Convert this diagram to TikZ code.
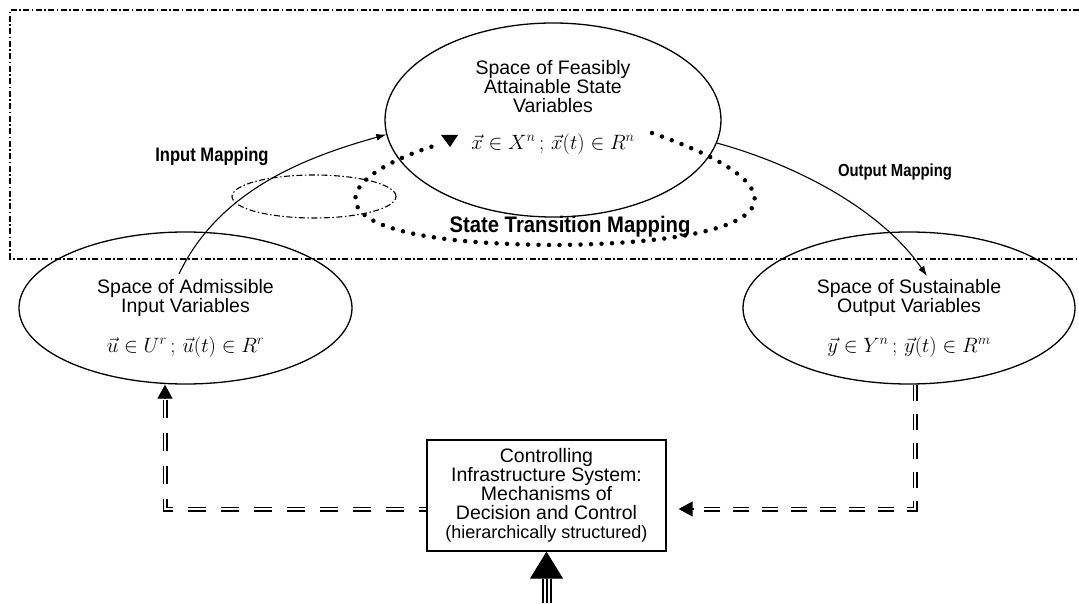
\documentclass[tikz,border=0pt]{standalone}
\usepackage{fontspec}
\setmainfont{Liberation Sans}
\usepackage{graphicx}
\usetikzlibrary{shapes.geometric,arrows.meta,calc,positioning}

\begin{document}
\begin{tikzpicture}[x=1pt,y=1pt,
    space/.style={draw,ellipse,line width=1.3pt,inner sep=0pt},
    body/.style={align=center,font=\fontsize{19.5}{19}\selectfont},
    formula/.style={font=\fontsize{20}{20}\selectfont},
    maplabel/.style={font=\fontsize{18}{18}\selectfont\bfseries},
    framedash/.style={line width=1.1pt,dash pattern=on 6pt off 2.5pt on 1.5pt off 2.5pt},
    mapping/.style={-{Latex[length=10pt,width=7pt]},line width=1.1pt},
    transition/.style={line width=4.5pt,line cap=round,dash pattern=on 0pt off 10.5pt},
    feedback/.style={double,double distance=2.4pt,line width=1.3pt,dash pattern=on 18pt off 15pt},
    headtip/.style={-{Triangle[length=14pt,width=15pt]},line width=1.2pt},
    tripleline/.style={line width=2pt,preaction={draw,line width=10pt},preaction={draw,white,line width=6pt}}]

    \useasboundingbox (0,0) rectangle (1079,603);

    \draw[framedash] (1079,593) -- (10,593) -- (10,344) -- (1079,344);
    \draw[framedash] (314,406.5) ellipse [x radius=82pt, y radius=21.5pt];

    \node[space,minimum width=336pt,minimum height=194pt] (state) at (553,483) {};
    \node[body] (statetext) at ($(state.center)+(0,33)$) {Space of Feasibly\\Attainable State\\Variables};
    \node[formula] (statemath) at ($(state.center)+(0,-24)$) {$\vec{x}\in X^{n}\,;\,\vec{x}(t)\in R^{n}$};

    \node[space,minimum width=333pt,minimum height=152pt] (input) at (185.5,295) {};
    \node[body] (inputtext) at ($(input.center)+(0,10)$) {Space of Admissible\\Input Variables};
    \node[formula] (inputmath) at ($(input.center)+(0,-39)$) {$\vec{u}\in U^{r}\,;\,\vec{u}(t)\in R^{r}$};

    \node[space,minimum width=332pt,minimum height=152pt] (output) at (909,295) {};
    \node[body] (outputtext) at ($(output.center)+(0,10)$) {Space of Sustainable\\Output Variables};
    \node[formula] (outputmath) at ($(output.center)+(0,-39)$) {$\vec{y}\in Y^{n}\,;\,\vec{y}(t)\in R^{m}$};

    \node[draw,line width=1.3pt,body,inner sep=0pt,minimum width=239pt,minimum height=111pt] (control) at (546.5,107.5)
        {Controlling\\Infrastructure System:\\Mechanisms of\\Decision and Control\\{\fontsize{18}{19}\selectfont(hierarchically structured)}};

    \node[maplabel,font=\fontsize{19.5}{19.5}\selectfont\bfseries] (inlabel) at (212,446) {\scalebox{0.85}[1]{Input Mapping}};
    \node[maplabel,font=\fontsize{17.5}{17.5}\selectfont\bfseries] (outlabel) at (895,431) {\scalebox{0.85}[1]{Output Mapping}};
    \node[maplabel,font=\fontsize{22.5}{22.5}\selectfont\bfseries] (translabel) at (570,376) {\scalebox{0.9}[1]{State Transition Mapping}};

    \coordinate (instart) at (179,329);
    \coordinate (outend) at (927,327);
    \draw[mapping] (instart) .. controls (220,415) and (310,447) .. (state.185);
    \draw[mapping] (state.-8) .. controls (800,437) and (882,392) .. (outend);

    \coordinate (loopstart) at (652,470);
    \coordinate (looptip) at (449,462);
    \draw[transition] (loopstart) .. controls (810,415) and (790,362) .. (563,358) .. controls (303,358) and (318,422) .. (440,459);
    \fill ($(looptip)+(-8,6)$) -- ++(17,0) -- ($(looptip)+(1,-6)$) -- cycle;

    \coordinate (lcorner) at (165,94);
    \coordinate (ltip) at (lcorner |- input.south);
    \draw[feedback,dash phase=11pt,shorten >=14pt] (control.west |- lcorner) -- (lcorner) -- (ltip);
    \draw[headtip] ($(ltip)+(0,-14)$) -- (ltip);

    \coordinate (rcorner) at (915,94);
    \coordinate (rtip) at ($(control.east |- rcorner)+(12,0)$);
    \draw[feedback,dash pattern=on 16pt off 13pt,dash phase=0pt,shorten >=27pt] (rcorner |- output.south) -- (rcorner) -- (control.east |- rcorner);
    \draw[headtip] ($(rtip)+(15,0)$) -- (rtip);

    \coordinate (ground) at (control.south |- 0,0);
    \draw[tripleline] (ground) -- ($(control.south)+(0,-27)$);
    \draw[-{Triangle[length=27pt,width=33pt]},line width=1pt] ($(control.south)+(0,-27)$) -- (control.south);

\end{tikzpicture}
\end{document}
